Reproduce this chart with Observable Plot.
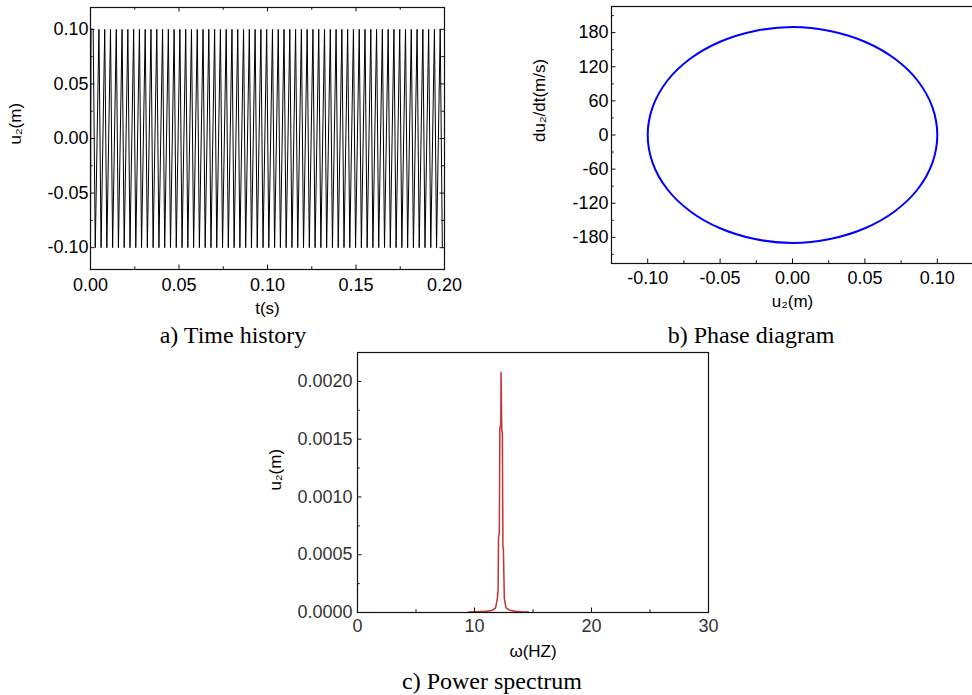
<!DOCTYPE html>
<html><head><meta charset="utf-8">
<script src="https://cdn.jsdelivr.net/npm/d3@7"></script>
<script src="https://cdn.jsdelivr.net/npm/@observablehq/plot@0.6"></script>
<style>
html,body{margin:0;padding:0;background:#fff;overflow:hidden;width:972px;height:695px;}
#root{position:relative;width:972px;height:695px;overflow:hidden;}
.panel{position:absolute;}
.panel svg{display:block;max-width:none;}
.cap{position:absolute;font-family:"Liberation Serif","Times New Roman",serif;font-size:24px;line-height:24px;color:#000;white-space:nowrap;transform:translateX(-50%);}
</style></head><body><div id="root"></div>
<script>
// ---------- a) Time history ----------
const timeStartT = [0, 0.0003];
const timeStartU = [-0.10, 0.10];
const timeAmplitude = 0.10;
const timePeakT = [0.00150,0.00477,0.00804,0.01130,0.01457,0.01784,0.02111,0.02438,0.02764,0.03091,
  0.03418,0.03745,0.04072,0.04398,0.04725,0.05052,0.05379,0.05706,0.06032,0.06359,
  0.06686,0.07013,0.07340,0.07666,0.07993,0.08320,0.08647,0.08974,0.09300,0.09627,
  0.09954,0.10281,0.10608,0.10934,0.11261,0.11588,0.11915,0.12242,0.12568,0.12895,
  0.13222,0.13549,0.13876,0.14202,0.14529,0.14856,0.15183,0.15510,0.15836,0.16163,
  0.16490,0.16817,0.17144,0.17470,0.17797,0.18124,0.18451,0.18778,0.19104,0.19431,0.19758];
const timeTroughT = [0.00270,0.00597,0.00924,0.01250,0.01577,0.01904,0.02231,0.02558,0.02884,0.03211,
  0.03538,0.03865,0.04192,0.04518,0.04845,0.05172,0.05499,0.05826,0.06152,0.06479,
  0.06806,0.07133,0.07460,0.07786,0.08113,0.08440,0.08767,0.09094,0.09420,0.09747,
  0.10074,0.10401,0.10728,0.11054,0.11381,0.11708,0.12035,0.12362,0.12688,0.13015,
  0.13342,0.13669,0.13996,0.14322,0.14649,0.14976,0.15303,0.15630,0.15956,0.16283,
  0.16610,0.16937,0.17264,0.17590,0.17917,0.18244,0.18571,0.18898,0.19224,0.19551,0.19878];
const timeXMajor = [0, 0.05, 0.10, 0.15, 0.20];
const timeXMinor = [0.025, 0.075, 0.125, 0.175];
const timeYMajor = [-0.10, -0.05, 0, 0.05, 0.10];
const timeYMinor = [-0.075, -0.025, 0.025, 0.075];

// ---------- b) Phase diagram ----------
const phaseU = [0.100,0.0966,0.0866,0.0707,0.0500,0.0259,0,-0.0259,-0.0500,-0.0707,-0.0866,-0.0966,
  -0.100,-0.0966,-0.0866,-0.0707,-0.0500,-0.0259,0,0.0259,0.0500,0.0707,0.0866,0.0966];
const phaseV = [0,49,95,134,164,183,190,183,164,134,95,49,
  0,-49,-95,-134,-164,-183,-190,-183,-164,-134,-95,-49];
const phaseXMajor = [-0.10, -0.05, 0, 0.05, 0.10];
const phaseXMinor = [-0.075, -0.025, 0.025, 0.075];
const phaseYMajor = [-180, -120, -60, 0, 60, 120, 180];
const phaseYMinor = [-210, -150, -90, -30, 30, 90, 150, 210];

// ---------- c) Power spectrum ----------
const specW = [9.5,10.0,10.5,11.0,11.5,11.8,11.95,12.02,12.05,12.12,12.17,12.25,12.27,12.33,12.38,12.43,12.47,12.55,12.7,13.0,13.5,14.0,14.6];
const specA = [0.000005,0.000006,0.000008,0.00001,0.000018,0.00004,0.00012,0.0002,0.00065,0.00068,0.0016,0.00162,0.00208,0.00158,0.00155,0.00057,0.00055,0.00012,0.00004,0.00002,0.00001,0.000007,0.000005];
const specXMajor = [0, 10, 20, 30];
const specXMinor = [5, 15, 25];
const specYMajor = [0, 0.0005, 0.0010, 0.0015, 0.0020];
const specYMinor = [0.00025, 0.00075, 0.00125, 0.00175];

// ---------- build tables ----------
const timeRows = timeStartT.map((t, i) => ({t, u: timeStartU[i]}));
timePeakT.forEach((t, i) => {
  timeRows.push({t, u: timeAmplitude});
  timeRows.push({t: timeTroughT[i], u: -timeAmplitude});
});
const phaseRows = phaseU.map((u, i) => ({u, v: phaseV[i]}));
const specRows = specW.map((w, i) => ({w, a: specA[i]}));

const FONT = '"Liberation Sans", Arial, sans-serif';
const root = document.getElementById("root");

function panel(o) {
  const iw = o.W - o.mL - o.mR, ih = o.H - o.mT - o.mB;
  const MAJ = 4.5, MIN = 2.7;
  const tc = o.tickColor || "#111";
  const fs = o.tickFont || 18;
  const marks = [
    ...o.marks,
    Plot.frame({stroke: "#111", strokeWidth: 1.2}),
    Plot.tickX(o.xMajor, {x: d => d, insetTop: ih - MAJ, stroke: tc}),
    Plot.tickX(o.xMinor, {x: d => d, insetTop: ih - MIN, stroke: tc}),
    Plot.tickY(o.yMajor, {y: d => d, insetRight: iw - MAJ, stroke: tc}),
    Plot.tickY(o.yMinor, {y: d => d, insetRight: iw - MIN, stroke: tc}),
    Plot.axisX({ticks: o.xMajor, tickSize: 0, tickPadding: o.xPad, tickFormat: o.xFmt, fontSize: fs, label: null, fill: o.labelColor || "#000"}),
    Plot.axisY({ticks: o.yMajor, tickSize: 0, tickPadding: o.yPad, tickFormat: o.yFmt, fontSize: fs, label: null, fill: o.labelColor || "#000"}),
    Plot.text([o.xLabel], {text: d => d, frameAnchor: "bottom", dy: o.xLabelDy, fontSize: 17, fill: "#000"}),
    Plot.text([o.yLabel], {text: d => d, frameAnchor: "left", dx: o.yLabelDx, dy: o.yLabelDy, rotate: -90, fontSize: 17, fill: "#000"})
  ];
  if (o.mirror) {
    marks.push(
      Plot.tickX(o.xMajor, {x: d => d, insetBottom: ih - MAJ, stroke: tc}),
      Plot.tickX(o.xMinor, {x: d => d, insetBottom: ih - MIN, stroke: tc}),
      Plot.tickY(o.yMajor, {y: d => d, insetLeft: iw - MAJ, stroke: tc}),
      Plot.tickY(o.yMinor, {y: d => d, insetLeft: iw - MIN, stroke: tc})
    );
  }
  const svg = Plot.plot({
    width: o.W, height: o.H,
    marginLeft: o.mL, marginRight: o.mR, marginTop: o.mT, marginBottom: o.mB,
    x: {domain: o.xDomain},
    y: {domain: o.yDomain},
    style: {fontFamily: FONT, fontSize: "17px", color: "#000", background: "transparent", overflow: "visible"},
    marks
  });
  const div = document.createElement("div");
  div.className = "panel";
  div.style.left = o.left + "px";
  div.style.top = o.top + "px";
  div.appendChild(svg);
  root.appendChild(div);
}

const f2 = d => d.toFixed(2);
const f4 = d => d.toFixed(4);

panel({
  left: 0, top: 0, W: 460, H: 325, mL: 90, mR: 16, mT: 7, mB: 56,
  xDomain: [0, 0.20], yDomain: [-0.12, 0.12],
  xMajor: timeXMajor, xMinor: timeXMinor, yMajor: timeYMajor, yMinor: timeYMinor,
  xFmt: f2, yFmt: f2, xPad: 9, yPad: 2, mirror: true,
  xLabel: "t(s)", yLabel: "u₂(m)", xLabelDy: 44, yLabelDx: -75, yLabelDy: 6,
  marks: [Plot.line(timeRows, {x: "t", y: "u", stroke: "#000", strokeWidth: 1})]
});

panel({
  left: 530, top: 0, W: 445, H: 325, mL: 81, mR: 2, mT: 6, mB: 62,
  xDomain: [-0.125, 0.125], yDomain: [-226, 226],
  xMajor: phaseXMajor, xMinor: phaseXMinor, yMajor: phaseYMajor, yMinor: phaseYMinor,
  xFmt: f2, yFmt: d => String(d), xPad: 8, yPad: 3, mirror: false,
  xLabel: "u₂(m)", yLabel: "du₂/dt(m/s)", xLabelDy: 43, yLabelDx: -72, yLabelDy: 7,
  marks: [Plot.line(phaseRows, {x: "u", y: "v", curve: "catmull-rom-closed", stroke: "#0000ff", strokeWidth: 2})]
});

panel({
  left: 260, top: 345, W: 460, H: 350, mL: 97, mR: 12, mT: 7, mB: 83,
  xDomain: [0, 30], yDomain: [0, 0.00225],
  xMajor: specXMajor, xMinor: specXMinor, yMajor: specYMajor, yMinor: specYMinor,
  xFmt: d => String(d), yFmt: f4, xPad: 7, yPad: 5, mirror: false, labelColor: "#333",
  xLabel: "ω(HZ)", yLabel: "u₂(m)", xLabelDy: 44, yLabelDx: -82, yLabelDy: 8,
  marks: [Plot.line(specRows, {x: "w", y: "a", stroke: "#c83232", strokeWidth: 1.5})]
});

// captions
[["a) Time history", 233, 323], ["b) Phase diagram", 751, 323], ["c) Power spectrum", 492, 669]].forEach(([t, x, y]) => {
  const d = document.createElement("div");
  d.className = "cap";
  d.textContent = t;
  d.style.left = x + "px";
  d.style.top = y + "px";
  root.appendChild(d);
});
</script>
</body></html>
